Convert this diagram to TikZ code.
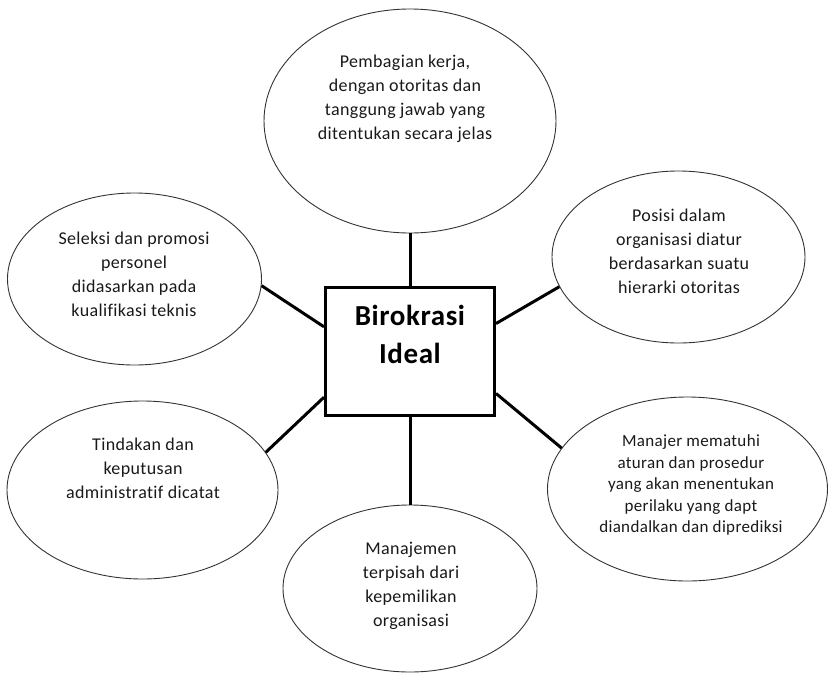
\documentclass[tikz,border=0pt]{standalone}
\usepackage{fontspec}
\setmainfont{Carlito}[Ligatures=NoCommon, LetterSpace=2]
\usetikzlibrary{shapes.geometric}
\begin{document}
\begin{tikzpicture}[x=1pt,y=-1pt,
  idea/.style={draw=black!80, line width=0.9pt, ellipse, inner sep=0pt},
  core/.style={draw=black, line width=3pt, rectangle, inner sep=0pt,
    minimum width=169pt, minimum height=128pt},
  caption/.style={align=center, inner sep=0pt, text=black!90,
    font=\fontsize{18}{24}\selectfont},
  link/.style={draw=black, line width=3pt}]
\useasboundingbox (0,0) rectangle (828,673);

% centre box and its title
\node[core] (hub) at (410,351.5) {};
\node[align=center, inner sep=0pt, font=\bfseries\fontsize{29}{38}\selectfont]
  (hubtext) at (410,334) {Birokrasi\\Ideal};

% surrounding ideas
\node[idea, minimum width=292pt, minimum height=224pt] (top) at (410,121) {};
\node[caption] (toptext) at (405,98.5)
  {Pembagian kerja,\\dengan otoritas dan\\tanggung jawab yang\\ditentukan secara jelas};

\node[idea, minimum width=254pt, minimum height=172pt] (lt) at (134.5,279) {};
\node[caption] (lttext) at (134,274)
  {Seleksi dan promosi\\personel\\didasarkan pada\\kualifikasi teknis};

\node[idea, minimum width=253pt, minimum height=172pt] (rt) at (678.5,257) {};
\node[caption] (rttext) at (679,251)
  {Posisi dalam\\organisasi diatur\\berdasarkan suatu\\hierarki otoritas};

\node[idea, minimum width=271pt, minimum height=178pt] (lb) at (142.5,490) {};
\node[caption] (lbtext) at (143,468)
  {Tindakan dan\\keputusan\\administratif dicatat};

\node[idea, minimum width=280pt, minimum height=184pt] (rb) at (687.5,489) {};
\node[caption, font=\fontsize{17}{21.5}\selectfont] (rbtext) at (691,485)
  {Manajer mematuhi\\aturan dan prosedur\\yang akan menentukan\\perilaku yang dapt\\diandalkan dan diprediksi};

\node[idea, minimum width=254pt, minimum height=167pt] (bot) at (410,588.5) {};
\node[caption] (bottext) at (411,585.5)
  {Manajemen\\terpisah dari\\kepemilikan\\organisasi};

% connectors
\draw[link] (hub.north) -- (top.south);
\draw[link] (hub.south) -- (bot.north);
\draw[link] (hub.164.9) -- (lt.-3.6);
\draw[link] (hub.18.1) -- (rt.194.7);
\draw[link] (hub.208.7) -- (lb.17.8);
\draw[link] (hub.-26.6) -- (rb.162.7);
\end{tikzpicture}
\end{document}
